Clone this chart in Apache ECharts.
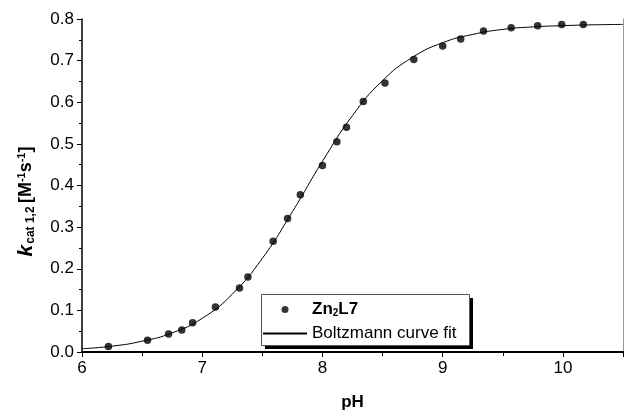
<!DOCTYPE html>
<html>
<head>
<meta charset="utf-8">
<script src="https://cdn.jsdelivr.net/npm/echarts@6/dist/echarts.min.js"></script>
<style>
  html, body { margin: 0; padding: 0; background: #fff; }
  #chart { width: 626px; height: 416px; }
</style>
</head>
<body>
<div id="chart"></div>
<script>
// measured points (pH, k_cat)
const phPoints = [6.22, 6.545, 6.72, 6.83, 6.92, 7.11, 7.31, 7.38, 7.59, 7.71, 7.816, 8.0,
  8.12, 8.2, 8.34, 8.52, 8.76, 9.0, 9.15, 9.34, 9.57, 9.79, 9.99, 10.17];
const kPoints = [0.013, 0.028, 0.043, 0.053, 0.070, 0.108, 0.154, 0.180, 0.266, 0.321, 0.378, 0.448,
  0.505, 0.540, 0.602, 0.646, 0.703, 0.735, 0.752, 0.771, 0.779, 0.784, 0.787, 0.787];

// fitted curve
const fitPh = [6.0, 6.25, 6.5, 6.75, 7.0, 7.25, 7.5, 7.75, 8.0, 8.25, 8.5, 8.75, 9.0, 9.25, 9.5, 9.75, 10.0, 10.25, 10.5];
const fitK = [0.008, 0.014, 0.026, 0.046, 0.081, 0.139, 0.225, 0.337, 0.458, 0.568, 0.652, 0.708, 0.743, 0.763, 0.775, 0.781, 0.784, 0.786, 0.787];

const xTicks = { min: 6, max: 10.5, interval: 1 };
const yTicks = { min: 0, max: 0.8, interval: 0.1 };

const chart = echarts.init(document.getElementById('chart'));
const font = 'Liberation Sans, Arial, sans-serif';

const option = {
  animation: false,
  textStyle: { fontFamily: font },
  grid: { left: 82, right: 1, top: 19, bottom: 60 },
  // legend frame with hard drop shadow
  graphic: [
    { type: 'rect', left: 265, top: 298, z: 5, silent: true,
      shape: { width: 208, height: 51 }, style: { fill: '#000' } },
    { type: 'rect', left: 261, top: 294, z: 6, silent: true,
      shape: { width: 208, height: 51 }, style: { fill: '#fff', stroke: '#555', lineWidth: 1 } }
  ],
  legend: {
    orient: 'vertical',
    left: 262,
    top: 299,
    z: 10,
    itemWidth: 44,
    itemHeight: 7,
    itemGap: 7,
    padding: 0,
    data: [
      { name: 'Zn2L7' },
      { name: 'Boltzmann curve fit', itemStyle: { opacity: 0 } }
    ],
    formatter: function (name) {
      if (name === 'Zn2L7') return '{b|Zn}{s|2}{b|L7}';
      return '{n|' + name + '}';
    },
    textStyle: {
      rich: {
        b: { fontFamily: font, fontSize: 17, fontWeight: 'bold', color: '#000', lineHeight: 17 },
        s: { fontFamily: font, fontSize: 10, fontWeight: 'bold', color: '#000', verticalAlign: 'bottom', lineHeight: 10, padding: [9, 0, 0, 0] },
        n: { fontFamily: font, fontSize: 17, color: '#000', lineHeight: 17 }
      }
    }
  },
  xAxis: [{
    type: 'value',
    min: xTicks.min, max: xTicks.max, interval: xTicks.interval,
    name: 'pH',
    nameLocation: 'middle',
    nameGap: 42,
    nameTextStyle: { fontFamily: font, fontSize: 17, fontWeight: 'bold', color: '#000' },
    axisLine: { lineStyle: { color: '#000', width: 1.5 } },
    axisTick: { inside: false, length: 5, lineStyle: { color: '#000', width: 1 } },
    minorTick: { show: true, splitNumber: 2, length: 4, lineStyle: { color: '#000', width: 1 } },
    axisLabel: { fontSize: 17, color: '#000', margin: 8,
      formatter: function (v) { return v === 10.5 ? '' : String(v); } },
    splitLine: { show: false }
  }, {
    type: 'value',
    position: 'top',
    min: xTicks.min, max: xTicks.max,
    axisLine: { show: true, lineStyle: { color: '#000', width: 2 } },
    axisTick: { show: false },
    axisLabel: { show: false },
    splitLine: { show: false }
  }],
  yAxis: [{
    type: 'value',
    min: yTicks.min, max: yTicks.max, interval: yTicks.interval,
    name: '{k|k}{c|cat 1,2} {b|[M}{p|-1}{b|s}{p|-1}{b|]}',
    nameLocation: 'middle',
    nameRotate: 90,
    nameGap: 45,
    nameTextStyle: {
      padding: [0, 32, 0, 0],
      rich: {
        k: { fontFamily: font, fontSize: 21, fontWeight: 'bold', fontStyle: 'italic', color: '#000' },
        c: { fontFamily: font, fontSize: 12, fontWeight: 'bold', color: '#000', verticalAlign: 'bottom', padding: [8, 0, 0, 1] },
        b: { fontFamily: font, fontSize: 18, fontWeight: 'bold', color: '#000' },
        p: { fontFamily: font, fontSize: 11, fontWeight: 'bold', color: '#000', verticalAlign: 'top', padding: [0, 0, 8, 0] }
      }
    },
    axisLine: { show: true, lineStyle: { color: '#000', width: 1.5 } },
    axisTick: { inside: false, length: 5, lineStyle: { color: '#000', width: 1 } },
    minorTick: { show: true, splitNumber: 2, length: 3, lineStyle: { color: '#000', width: 1 } },
    axisLabel: { fontSize: 17, color: '#000', margin: 8,
      formatter: function (v) { return v.toFixed(1); } },
    splitLine: { show: false }
  }, {
    type: 'value',
    position: 'right',
    min: yTicks.min, max: yTicks.max,
    axisLine: { show: true, lineStyle: { color: '#999', width: 1 } },
    axisTick: { show: false },
    axisLabel: { show: false },
    splitLine: { show: false }
  }],
  series: [{
    name: 'Boltzmann curve fit',
    type: 'line',
    data: fitPh.map((x, i) => [x, fitK[i]]),
    smooth: true,
    symbol: 'none',
    itemStyle: { color: '#000' },
    lineStyle: { color: '#000', width: 1 },
    z: 2
  }, {
    name: 'Zn2L7',
    type: 'scatter',
    data: phPoints.map((x, i) => [x, kPoints[i]]),
    symbol: 'circle',
    symbolSize: 7.5,
    itemStyle: { color: '#000' },
    z: 3
  }]
};

chart.setOption(option);
window.addEventListener('resize', () => chart.resize());
</script>
</body>
</html>
